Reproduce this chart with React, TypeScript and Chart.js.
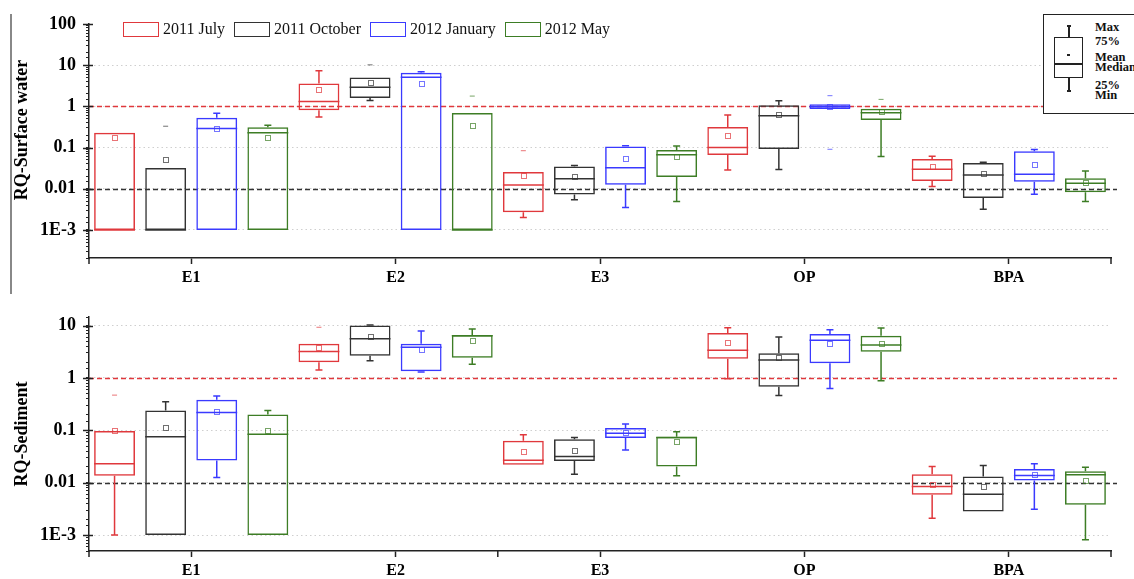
import React, { useEffect, useRef } from 'react';
import { Chart, registerables } from 'chart.js';
Chart.register(...registerables);

// [min, q1, median, q3, max, mean]
type Stat = [number, number, number, number, number, number];

const categories = ['E1', 'E2', 'E3', 'OP', 'BPA'];
const seriesNames = ['2011 July', '2011 October', '2012 January', '2012 May'];
const seriesColors = ['#e0383c', '#333333', '#3a3aff', '#3d7d25'];

const yTickValues = [0.001, 0.01, 0.1, 1, 10, 100];
const yTickLabels = ['1E-3', '0.01', '0.1', '1', '10', '100'];
const thresholds = [1, 0.01];
const thresholdColors = ['#e0383c', '#333333'];

// RQ - Surface water
const waterJuly: Stat[] = [
  [0.001, 0.001, 0.001, 0.23, 0.23, 0.18],
  [0.55, 0.81, 1.32, 3.6, 7.3, 2.6],
  [0.002, 0.0027, 0.0123, 0.0255, 0.0255, 0.0209],
  [0.0285, 0.066, 0.1, 0.315, 0.62, 0.2],
  [0.0114, 0.0154, 0.03, 0.0527, 0.062, 0.0356],
];
const waterOctober: Stat[] = [
  [0.001, 0.001, 0.001, 0.032, 0.032, 0.052],
  [1.4, 1.6, 2.9, 5.0, 5.0, 3.8],
  [0.0054, 0.0073, 0.0176, 0.035, 0.037, 0.0204],
  [0.0296, 0.092, 0.59, 1.06, 1.37, 0.64],
  [0.0032, 0.006, 0.0215, 0.042, 0.044, 0.023],
];
const waterJanuary: Stat[] = [
  [0.001, 0.001, 0.29, 0.53, 0.68, 0.29],
  [0.001, 0.001, 5.1, 6.6, 6.9, 3.6],
  [0.0035, 0.0126, 0.0325, 0.107, 0.111, 0.053],
  [0.86, 0.86, 0.98, 1.12, 1.12, 0.98],
  [0.0074, 0.0149, 0.0224, 0.082, 0.09, 0.039],
];
const waterMay: Stat[] = [
  [0.001, 0.001, 0.23, 0.31, 0.35, 0.18],
  [0.001, 0.001, 0.001, 0.69, 0.69, 0.35],
  [0.0049, 0.0193, 0.067, 0.087, 0.109, 0.06],
  [0.061, 0.47, 0.7, 0.88, 0.88, 0.76],
  [0.0049, 0.0083, 0.0137, 0.018, 0.027, 0.0143],
];
const waterExtremeHigh: (number | null)[][] = [
  [null, null, 0.084, null, null],
  [0.33, 10.2, null, null, null],
  [null, null, null, 1.82, null],
  [null, 1.78, null, 1.48, null],
];
const waterExtremeLow: (number | null)[][] = [
  [null, null, null, null, null],
  [null, null, null, null, null],
  [null, null, null, 0.091, null],
  [null, null, null, null, null],
];

// RQ - Sediment
const sedimentJuly: Stat[] = [
  [0.001, 0.0135, 0.023, 0.097, 0.097, 0.1],
  [1.42, 2.0, 3.2, 4.5, 4.5, 3.85],
  [0.0219, 0.0219, 0.0268, 0.063, 0.082, 0.039],
  [0.97, 2.34, 3.4, 7.2, 9.1, 4.7],
  [0.0021, 0.0059, 0.0084, 0.0145, 0.0203, 0.0093],
];
const sedimentOctober: Stat[] = [
  [0.001, 0.001, 0.075, 0.24, 0.35, 0.113],
  [2.14, 2.67, 5.6, 10, 10.3, 6.2],
  [0.0145, 0.026, 0.0315, 0.0676, 0.073, 0.042],
  [0.46, 0.68, 2.2, 2.96, 6.06, 2.44],
  [0.0028, 0.0028, 0.006, 0.0131, 0.0212, 0.0084],
];
const sedimentJanuary: Stat[] = [
  [0.0125, 0.0264, 0.22, 0.385, 0.45, 0.23],
  [1.3, 1.34, 3.85, 4.5, 7.9, 3.53],
  [0.042, 0.0716, 0.088, 0.111, 0.132, 0.092],
  [0.63, 1.9, 5.25, 6.9, 8.35, 4.6],
  [0.0031, 0.011, 0.0137, 0.0183, 0.0229, 0.0141],
];
const sedimentMay: Stat[] = [
  [0.001, 0.001, 0.084, 0.2, 0.24, 0.098],
  [1.82, 2.44, 6.4, 6.6, 8.6, 5.2],
  [0.0135, 0.0203, 0.073, 0.075, 0.094, 0.061],
  [0.88, 3.18, 4.26, 6.4, 9.0, 4.6],
  [0.00081, 0.0038, 0.0141, 0.0166, 0.0197, 0.0111],
];
const sedimentExtremeHigh: (number | null)[][] = [
  [0.47, 9.3, null, null, null],
  [null, null, null, null, null],
  [null, null, null, null, null],
  [null, null, null, null, null],
];
const sedimentExtremeLow: (number | null)[][] = [
  [null, null, null, null, null],
  [null, null, null, null, null],
  [null, null, null, null, null],
  [null, null, null, null, null],
];

const FONT = '"Liberation Serif", "Times New Roman", serif';

const isPow10 = (v: number) => {
  const l = Math.log10(v);
  return Math.abs(l - Math.round(l)) < 1e-9;
};

const boxPlugin = {
  id: 'boxExtras',
  beforeDatasetsDraw(chart: any) {
    const { ctx, chartArea } = chart;
    const y = chart.scales.y;
    thresholds.forEach((t, i) => {
      const py = Math.round(y.getPixelForValue(t)) + 0.5;
      ctx.save();
      ctx.strokeStyle = thresholdColors[i];
      ctx.lineWidth = 1.5;
      ctx.setLineDash([5, 3]);
      ctx.beginPath();
      ctx.moveTo(chartArea.left, py);
      ctx.lineTo(chartArea.right + 6, py);
      ctx.stroke();
      ctx.restore();
    });
  },
  afterDatasetsDraw(chart: any) {
    const { ctx } = chart;
    const y = chart.scales.y;
    const py = (v: number) => y.getPixelForValue(v);
    chart.data.datasets.forEach((ds: any, di: number) => {
      const meta = chart.getDatasetMeta(di);
      const color = ds.borderColor;
      meta.data.forEach((bar: any, i: number) => {
        const s: Stat = ds.stats[i];
        const x = bar.x;
        const w = bar.width;
        const cap = 5;
        ctx.save();
        ctx.strokeStyle = color;
        ctx.lineWidth = 1.5;
        // median
        ctx.beginPath();
        ctx.moveTo(x - w / 2, py(s[2]));
        ctx.lineTo(x + w / 2, py(s[2]));
        ctx.stroke();
        // whiskers
        if (s[4] > s[3]) {
          ctx.beginPath();
          ctx.moveTo(x, py(s[3]));
          ctx.lineTo(x, py(s[4]));
          ctx.moveTo(x - cap / 2 - 1, py(s[4]));
          ctx.lineTo(x + cap / 2 + 1, py(s[4]));
          ctx.stroke();
        }
        if (s[0] < s[1]) {
          ctx.beginPath();
          ctx.moveTo(x, py(s[1]));
          ctx.lineTo(x, py(s[0]));
          ctx.moveTo(x - cap / 2 - 1, py(s[0]));
          ctx.lineTo(x + cap / 2 + 1, py(s[0]));
          ctx.stroke();
        }
        // mean
        ctx.globalAlpha = 0.7;
        ctx.lineWidth = 1;
        ctx.strokeRect(Math.round(x - 2.5) + 0.5, Math.round(py(s[5]) - 2.5) + 0.5, 5, 5);
        // extremes
        const hi = ds.extHigh[i];
        const lo = ds.extLow[i];
        [hi, lo].forEach((v: number | null) => {
          if (v == null) return;
          ctx.beginPath();
          ctx.moveTo(x - 2.5, py(v));
          ctx.lineTo(x + 2.5, py(v));
          ctx.stroke();
        });
        ctx.restore();
      });
    });
  },
  afterDraw(chart: any, _args: any, opts: any) {
    const { ctx, chartArea } = chart;
    const xs = chart.scales.x;
    const ys = chart.scales.y;
    ctx.save();
    ctx.strokeStyle = '#222';
    ctx.lineWidth = 1.5;
    // extra x ticks at edges / boundaries
    const bx: number[] = [chartArea.left, chartArea.right];
    (opts.boundaryTicks || []).forEach((b: number) => {
      bx.push((xs.getPixelForValue(b) + xs.getPixelForValue(b + 1)) / 2);
    });
    bx.forEach((px) => {
      ctx.beginPath();
      ctx.moveTo(px, chartArea.bottom);
      ctx.lineTo(px, chartArea.bottom + 6);
      ctx.stroke();
    });
    // inward major y ticks
    yTickValues.forEach((v) => {
      if (v < ys.min || v > ys.max) return;
      const py = Math.round(ys.getPixelForValue(v)) + 0.5;
      ctx.beginPath();
      ctx.moveTo(chartArea.left - 6, py);
      ctx.lineTo(chartArea.left + 4, py);
      ctx.stroke();
    });
    // y title
    ctx.translate(opts.titleX, opts.titleY);
    ctx.rotate(-Math.PI / 2);
    ctx.font = `bold 18px ${FONT}`;
    ctx.fillStyle = '#000';
    ctx.textAlign = 'center';
    ctx.textBaseline = 'middle';
    ctx.fillText(opts.title, 0, 0);
    ctx.restore();
  },
};

type PanelProps = {
  top: number;
  height: number;
  padTop: number;
  xAxisHeight: number;
  yMin: number;
  yMax: number;
  title: string;
  titleY: number;
  series: Stat[][];
  extHigh: (number | null)[][];
  extLow: (number | null)[][];
  boundaryTicks: number[];
};

function Panel(p: PanelProps) {
  const ref = useRef<HTMLCanvasElement>(null);
  useEffect(() => {
    if (!ref.current) return;
    const chart = new Chart(ref.current, {
      type: 'bar',
      data: {
        labels: categories,
        datasets: p.series.map((st, si) => ({
          label: seriesNames[si],
          data: st.map((s) => [s[1], s[3]]),
          stats: st,
          extHigh: p.extHigh[si],
          extLow: p.extLow[si],
          backgroundColor: 'rgba(255,255,255,0)',
          borderColor: seriesColors[si],
          borderWidth: 1.5,
          borderSkipped: false,
          categoryPercentage: 1,
          barPercentage: 0.8,
        })) as any,
      },
      options: {
        responsive: false,
        animation: false,
        events: [],
        layout: { padding: { left: 0, right: 23, top: p.padTop, bottom: 0 } },
        plugins: {
          legend: { display: false },
          tooltip: { enabled: false },
          boxExtras: { title: p.title, titleX: 22, titleY: p.titleY, boundaryTicks: p.boundaryTicks },
        } as any,
        scales: {
          x: {
            type: 'category',
            offset: true,
            grid: {
              display: true,
              drawOnChartArea: false,
              drawTicks: true,
              offset: false,
              tickLength: 6,
              tickColor: '#222',
              tickWidth: 1.5,
            },
            border: { display: true, color: '#222', width: 1.5 },
            ticks: {
              color: '#000',
              padding: 4,
              font: { family: FONT, weight: 'bold', size: 16 },
            },
            afterFit: (scale: any) => {
              scale.height = p.xAxisHeight;
            },
          },
          y: {
            type: 'logarithmic',
            min: p.yMin,
            max: p.yMax,
            grid: {
              display: true,
              drawOnChartArea: true,
              drawTicks: true,
              tickLength: 3,
              tickWidth: 1,
              tickColor: '#222',
              tickBorderDash: [],
              lineWidth: 1,
              color: (ctx: any) => {
                const v = ctx.tick && ctx.tick.value;
                return v && isPow10(v) && v >= 0.001 && v < p.yMax ? '#cfcfcf' : 'rgba(0,0,0,0)';
              },
            },
            border: { display: true, color: '#222', width: 1.5, dash: [1.5, 3] },
            ticks: {
              autoSkip: false,
              color: '#000',
              padding: 10,
              font: { family: FONT, weight: 'bold', size: 18 },
              callback: (v: any) => {
                const idx = yTickValues.findIndex((t) => Math.abs(Math.log10(t) - Math.log10(Number(v))) < 1e-9);
                return idx >= 0 ? yTickLabels[idx] : '';
              },
            },
            afterFit: (scale: any) => {
              scale.width = 89;
            },
          },
        },
      } as any,
      plugins: [boxPlugin as any],
    });
    return () => chart.destroy();
  }, []);
  return (
    <canvas
      ref={ref}
      width={1134}
      height={p.height}
      style={{ position: 'absolute', left: 0, top: p.top, width: 1134, height: p.height }}
    />
  );
}

function Legend() {
  return (
    <div
      style={{
        position: 'absolute',
        left: 123,
        top: 21,
        display: 'flex',
        alignItems: 'center',
        fontFamily: FONT,
        fontSize: 16,
        color: '#111',
      }}
    >
      {seriesNames.map((n, i) => (
        <div key={n} style={{ display: 'flex', alignItems: 'center', marginRight: 9 }}>
          <div
            style={{
              width: 34,
              height: 13,
              border: `1.5px solid ${seriesColors[i]}`,
              marginRight: 4,
            }}
          />
          <span style={{ lineHeight: '16px' }}>{n}</span>
        </div>
      ))}
    </div>
  );
}

const keyLabels = [
  { t: 'Max', y: 26 },
  { t: '75%', y: 40 },
  { t: 'Mean', y: 56 },
  { t: 'Median', y: 66 },
  { t: '25%', y: 84 },
  { t: 'Min', y: 94 },
];

function KeyBox() {
  const abs = (s: React.CSSProperties): React.CSSProperties => ({ position: 'absolute', ...s });
  return (
    <div style={abs({ left: 1043, top: 14, width: 110, height: 98, border: '1.5px solid #222', background: '#fff' })}>
      <div style={abs({ left: 10, top: 22, width: 27, height: 39, border: '1.5px solid #222' })} />
      <div style={abs({ left: 10, top: 48, width: 29, height: 1.5, background: '#222' })} />
      <div style={abs({ left: 23, top: 39, width: 3, height: 2, background: '#222' })} />
      <div style={abs({ left: 24, top: 10, width: 1.5, height: 12, background: '#222' })} />
      <div style={abs({ left: 24, top: 63, width: 1.5, height: 13, background: '#222' })} />
      <div style={abs({ left: 22.5, top: 10, width: 4.5, height: 1.5, background: '#222' })} />
      <div style={abs({ left: 22.5, top: 75, width: 4.5, height: 1.5, background: '#222' })} />
      {keyLabels.map((k) => (
        <div
          key={k.t}
          style={abs({
            left: 51,
            top: k.y - 14 - 7,
            fontFamily: FONT,
            fontWeight: 'bold',
            fontSize: 12.5,
            lineHeight: '14px',
            color: '#111',
          })}
        >
          {k.t}
        </div>
      ))}
    </div>
  );
}

export default function App() {
  return (
    <div
      style={{
        position: 'absolute',
        left: 0,
        top: 0,
        width: 1134,
        height: 579,
        overflow: 'hidden',
        background: '#fff',
      }}
    >
      <Panel
        top={0}
        height={292}
        padTop={24}
        xAxisHeight={34}
        yMin={2.09e-4}
        yMax={100}
        title="RQ-Surface water"
        titleY={130}
        series={[waterJuly, waterOctober, waterJanuary, waterMay]}
        extHigh={waterExtremeHigh}
        extLow={waterExtremeLow}
        boundaryTicks={[]}
      />
      <Panel
        top={292}
        height={287}
        padTop={25}
        xAxisHeight={28}
        yMin={4.95e-4}
        yMax={14.6}
        title="RQ-Sediment"
        titleY={142}
        series={[sedimentJuly, sedimentOctober, sedimentJanuary, sedimentMay]}
        extHigh={sedimentExtremeHigh}
        extLow={sedimentExtremeLow}
        boundaryTicks={[1]}
      />
      <div style={{ position: 'absolute', left: 10, top: 14, width: 1.5, height: 280, background: '#888' }} />
      <Legend />
      <KeyBox />
    </div>
  );
}
